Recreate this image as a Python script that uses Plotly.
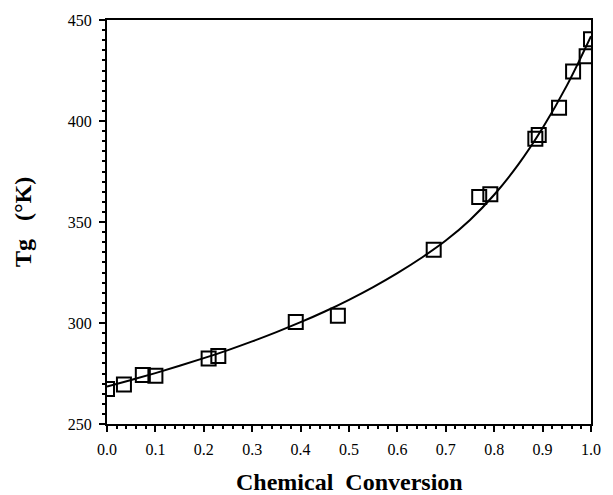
import plotly.graph_objects as go

# measured points
conv = [0.0, 0.035, 0.074, 0.10, 0.21, 0.23, 0.39, 0.477, 0.675, 0.769, 0.792,
        0.885, 0.892, 0.934, 0.963, 0.991, 1.0]
tg = [267.3, 269.5, 274.2, 273.9, 282.4, 283.7, 300.5, 303.6, 336.3, 362.4, 363.7,
      391.2, 393.1, 406.5, 424.5, 432.0, 440.5]

# fitted curve
curve_x = [0.0, 0.05, 0.1, 0.15, 0.2, 0.25, 0.3, 0.35, 0.4, 0.45, 0.5, 0.55, 0.6,
           0.65, 0.7, 0.75, 0.8, 0.85, 0.9, 0.95, 1.0]
curve_y = [268.5, 271.8, 275.2, 278.8, 282.6, 286.6, 290.9, 295.5, 300.4, 305.7,
           311.5, 317.8, 324.7, 332.3, 340.8, 351.0, 363.5, 378.5, 396.5, 417.5, 442.0]

x_ticks = [0.0, 0.1, 0.2, 0.3, 0.4, 0.5, 0.6, 0.7, 0.8, 0.9, 1.0]
x_ticktext = ["0.0", "0.1", "0.2", "0.3", "0.4", "0.5", "0.6", "0.7", "0.8", "0.9", "1.0"]
y_ticks = [250, 300, 350, 400, 450]

serif = "Liberation Serif, Times New Roman, serif"

fig = go.Figure()
fig.add_trace(go.Scatter(x=curve_x, y=curve_y, mode="lines",
                         line=dict(color="black", width=2, shape="spline", smoothing=1.0),
                         showlegend=False, hoverinfo="skip"))
fig.add_trace(go.Scatter(x=conv, y=tg, mode="markers",
                         marker=dict(symbol="square-open", size=14, color="black",
                                     line=dict(width=2, color="black")),
                         showlegend=False))

fig.update_layout(
    width=613, height=495,
    margin=dict(l=107, r=13, t=15, b=71),
    paper_bgcolor="white", plot_bgcolor="white",
    font=dict(family=serif, color="black", size=16),
    xaxis=dict(range=[0, 1.0], tickvals=x_ticks, ticktext=x_ticktext,
               showgrid=False, zeroline=False, showline=True, linecolor="black",
               linewidth=2, mirror=True, ticks="outside", ticklen=6, tickwidth=2,
               tickcolor="black", ticklabelstandoff=4,
               tickfont=dict(family=serif, size=16),
               minor=dict(ticks="outside", ticklen=3, tickwidth=1.5, dtick=0.02,
                          tickcolor="black", showgrid=False)),
    yaxis=dict(range=[250, 450], tickvals=y_ticks,
               showgrid=False, zeroline=False, showline=True, linecolor="black",
               linewidth=2, mirror=True, ticks="outside", ticklen=6, tickwidth=2,
               tickcolor="black", ticklabelstandoff=4,
               tickfont=dict(family=serif, size=16),
               minor=dict(ticks="outside", ticklen=3, tickwidth=1.5, dtick=5,
                          tickcolor="black", showgrid=False)),
    annotations=[
        dict(text="<b>Chemical&nbsp;&nbsp;Conversion</b>", xref="paper", yref="paper",
             x=0.5, y=0, xanchor="center", yanchor="middle", yshift=-58,
             showarrow=False, font=dict(family=serif, size=24, color="black")),
        dict(text="<b>Tg&nbsp;&nbsp;&nbsp;(°K)</b>", xref="paper", yref="paper",
             x=0, y=0.5, xanchor="center", yanchor="middle", xshift=-84, yshift=0,
             textangle=-90, showarrow=False,
             font=dict(family=serif, size=24, color="black")),
    ],
)

fig.write_html("out.html")
